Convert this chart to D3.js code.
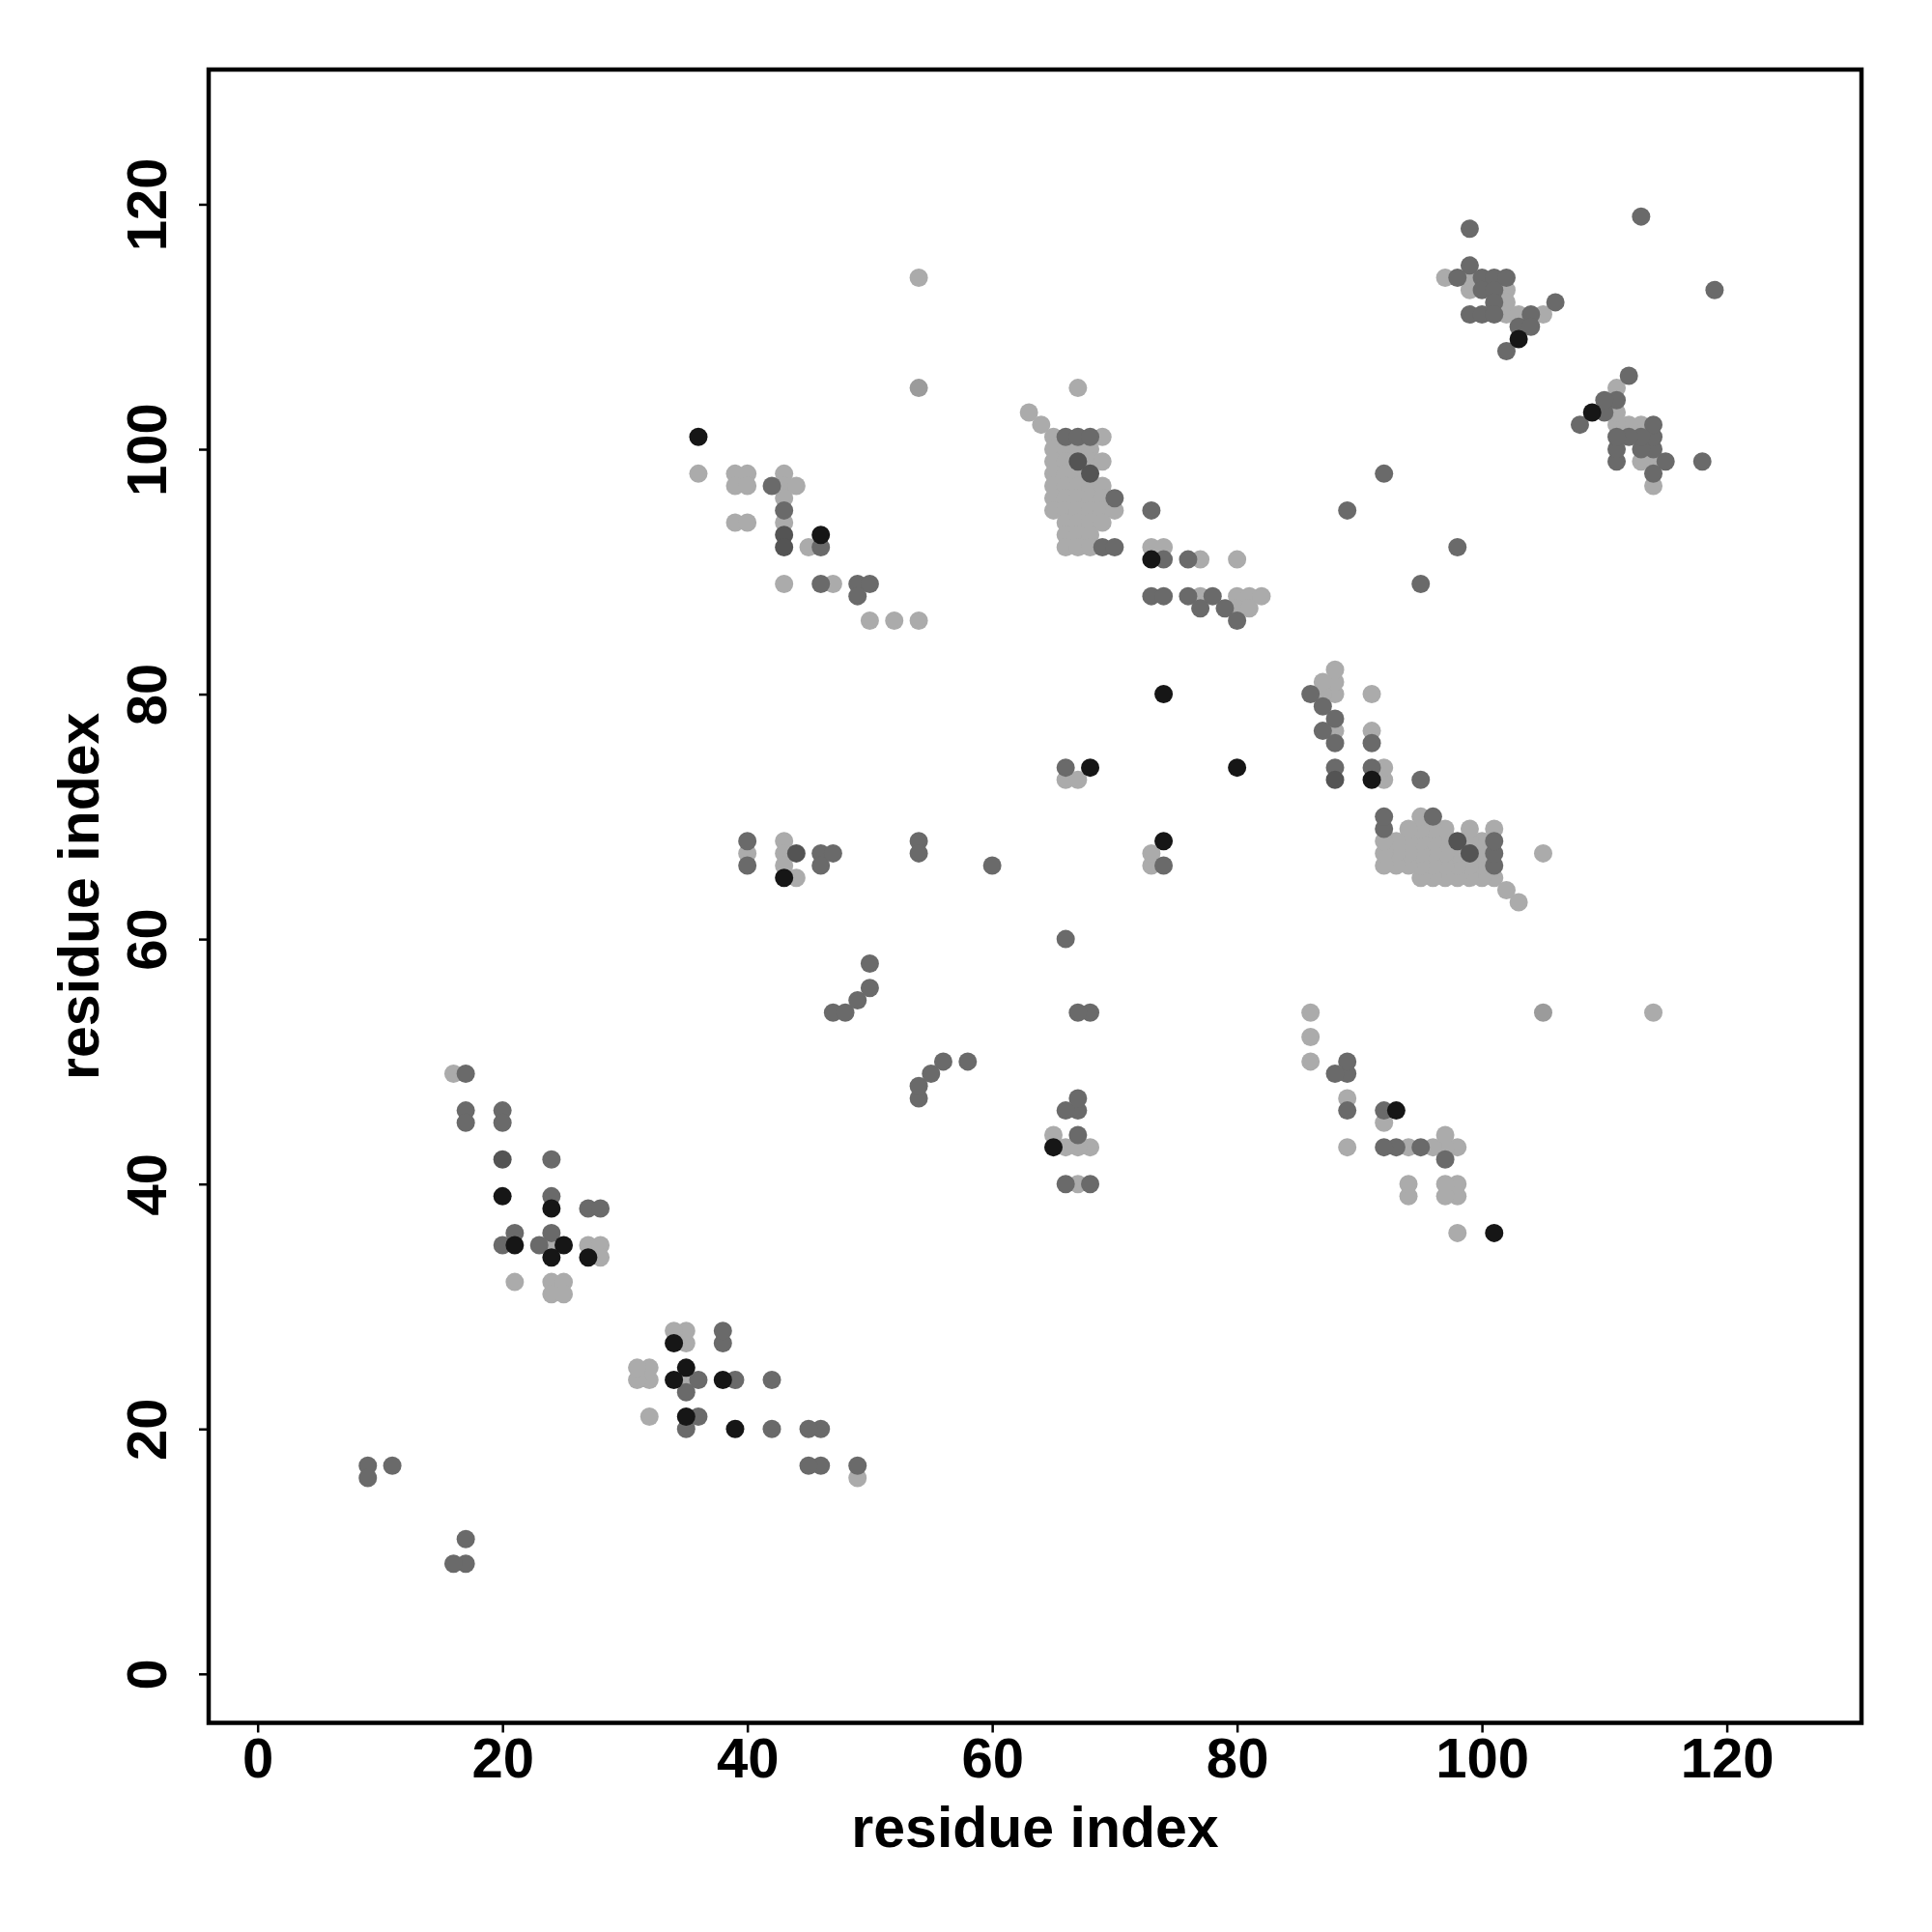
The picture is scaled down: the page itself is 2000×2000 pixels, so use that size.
<!DOCTYPE html>
<html>
<head>
<meta charset="utf-8">
<script src="https://cdn.jsdelivr.net/npm/d3@7"></script>
<style>
  html, body { margin: 0; padding: 0; background: #ffffff; }
  svg { display: block; }
  text { font-family: "Liberation Sans", Arial, Helvetica, sans-serif; font-weight: bold; }
</style>
</head>
<body>
<div id="chart"></div>
<script>
// ---- data: contacts [residue i, residue j] grouped by shade ----
const lightContacts = [
  [36,98],[39,98],[40,98],[39,97],[40,97],[39,94],[40,94],[43,98],[43,97],[43,96],[43,94],[44,97],[45,92],[43,89],[47,89],[50,86],[52,86],[54,86],[54,114],
  [98,36],[98,39],[98,40],[97,39],[97,40],[94,39],[94,40],[98,43],[97,43],[96,43],[94,43],[97,44],[92,45],[89,43],[89,47],[86,50],[86,52],[86,54],[114,54],
  [40,67],[43,68],[43,67],[43,66],[44,65],[67,40],[68,43],[67,43],[66,43],[65,44],
  [63,103],[64,102],[67,105],[103,63],[102,64],[105,67],
  [65,101],[69,101],[65,100],[66,100],[67,100],[68,100],[65,99],[66,99],[68,99],[69,99],[65,98],[66,98],[67,98],
  [65,97],[66,97],[67,97],[68,97],[69,97],[65,96],[66,96],[67,96],[68,96],[69,96],
  [65,95],[66,95],[67,95],[68,95],[69,95],[70,95],[66,94],[67,94],[68,94],[69,94],[66,93],[67,93],[68,93],[66,92],[67,92],[68,92],
  [101,65],[101,69],[100,65],[100,66],[100,67],[100,68],[99,65],[99,66],[99,68],[99,69],[98,65],[98,66],[98,67],
  [97,65],[97,66],[97,67],[97,68],[97,69],[96,65],[96,66],[96,67],[96,68],[96,69],
  [95,65],[95,66],[95,67],[95,68],[95,69],[95,70],[94,66],[94,67],[94,68],[94,69],[93,66],[93,67],[93,68],[92,66],[92,67],[92,68],
  [66,73],[67,73],[73,66],[73,67],
  [73,92],[74,92],[77,91],[80,91],[77,88],[80,88],[81,88],[82,88],[80,87],[81,87],
  [92,73],[92,74],[91,77],[91,80],[88,77],[88,80],[88,81],[88,82],[87,80],[87,81],
  [97,114],[99,114],[99,113],[102,113],[102,112],[102,111],[103,111],[105,111],
  [114,97],[114,99],[113,99],[113,102],[112,102],[111,102],[111,103],[111,105],
  [16,49],[49,16],[24,35],[35,24],[27,35],[35,27],[28,35],[35,28],[28,34],[34,28],
  [21,32],[32,21],[24,32],[32,24],[25,32],[32,25],[24,31],[31,24],[25,31],[31,25]
];
const greyContacts = [[54,105],[105,54]];
const mediumContacts = [
  [42,97],[97,42],[43,95],[95,43],[93,43],[92,43],[46,92],[92,46],[46,89],[89,46],[49,89],[89,49],[50,89],[89,50],[49,88],[88,49],
  [40,68],[68,40],[40,66],[66,40],[67,44],[46,67],[67,46],[46,66],[66,46],[47,67],[67,47],[54,68],[68,54],[54,67],[67,54],[60,66],[66,60],
  [47,54],[54,47],[48,54],[54,48],[49,55],[55,49],[50,56],[56,50],[50,58],[58,50],
  [66,101],[67,101],[68,101],[101,66],[101,67],[101,68],[70,96],[96,70],[69,92],[70,92],[92,69],[92,70],
  [66,74],[74,66],
  [73,95],[95,73],[74,91],[91,74],[76,91],[91,76],[73,88],[74,88],[88,74],[76,88],[88,76],[78,88],[88,78],
  [77,87],[87,77],[79,87],[87,79],[80,86],[86,80],
  [89,95],[95,89],[92,98],[98,92],
  [99,118],[118,99],[113,119],[119,113],[99,115],[115,99],
  [98,114],[114,98],[100,114],[114,100],[101,114],[114,101],[102,114],[114,102],[100,113],[113,100],[101,113],[113,101],
  [101,112],[112,101],[106,112],[112,106],[99,111],[111,99],[100,111],[111,100],[101,111],[111,101],[104,111],[111,104],
  [103,110],[110,103],[104,110],[110,104],[102,108],[108,102],
  [17,49],[49,17],[17,46],[46,17],[17,45],[45,17],[20,46],[46,20],[20,45],[45,20],[24,42],[42,24],[42,20],
  [24,39],[39,24],[27,38],[38,27],[28,38],[38,28],[21,36],[36,21],[24,36],[36,24],[20,35],[35,20],[23,35],[35,23],
  [9,17],[17,9],[11,17],[17,11],[9,16],[16,9]
];
const darkContacts = [[43,93],[43,92],[44,67],[20,42],[67,99],[99,67],[68,98],[98,68],[88,73]];
const blackContacts = [
  [36,101],[101,36],[46,93],[93,46],[43,65],[65,43],[73,91],[91,73],[74,80],[80,74],[68,74],[74,68],
  [103,109],[109,103],[20,39],[39,20],[24,38],[38,24],[21,35],[35,21],[25,35],[35,25],[24,34],[34,24],[27,34],[34,27]
];
const shadeGroups = ["light", "grey", "medium", "dark", "black"];
const shadeColors = ["#ababab", "#9b9b9b", "#6a6a6a", "#545454", "#161616"];
const tickValues = [0, 20, 40, 60, 80, 100, 120];
const axisTitle = "residue index";

// ---- drawing ----
(function () {
  const W = 2000, H = 2000;
  const pLeft = 216, pRight = 1927, pTop = 72, pBottom = 1783.5;
  const domain = [-4, 131];

  const svg = d3.select("#chart").append("svg").attr("width", W).attr("height", H);
  svg.append("rect").attr("width", W).attr("height", H).attr("fill", "#ffffff");

  const x = d3.scaleLinear().domain(domain).range([pLeft, pRight]);
  const y = d3.scaleLinear().domain(domain).range([pBottom, pTop]);
  const color = d3.scaleOrdinal().domain(shadeGroups).range(shadeColors);

  const groups = [
    ["light", lightContacts], ["grey", greyContacts], ["medium", mediumContacts],
    ["dark", darkContacts], ["black", blackContacts]
  ];
  const pts = svg.append("g");
  groups.forEach(([name, arr]) => {
    pts.selectAll(null).data(arr).enter().append("circle")
      .attr("cx", d => x(d[0]))
      .attr("cy", d => y(d[1]))
      .attr("r", 9.5)
      .attr("fill", color(name));
  });

  const fs = 58;
  const xAxis = svg.append("g").attr("transform", `translate(0,${pBottom})`)
    .call(d3.axisBottom(x).tickValues(tickValues).tickSize(10).tickFormat(d3.format("d")));
  xAxis.select(".domain").remove();
  xAxis.selectAll(".tick line").attr("stroke", "#000").attr("stroke-width", 2.5);
  xAxis.selectAll(".tick text").attr("y", 56).attr("dy", 0)
    .attr("font-size", fs).attr("fill", "#000")
    .style("font-family", "'Liberation Sans', Arial, sans-serif").style("font-weight", "bold");

  const yAxis = svg.append("g").attr("transform", `translate(${pLeft},0)`)
    .call(d3.axisLeft(y).tickValues(tickValues).tickSize(10).tickFormat(d3.format("d")));
  yAxis.select(".domain").remove();
  yAxis.selectAll(".tick line").attr("stroke", "#000").attr("stroke-width", 2.5);
  yAxis.selectAll(".tick text")
    .attr("x", null).attr("dy", 0)
    .attr("transform", "translate(-44,0) rotate(-90)")
    .attr("text-anchor", "middle")
    .attr("font-size", fs).attr("fill", "#000")
    .style("font-family", "'Liberation Sans', Arial, sans-serif").style("font-weight", "bold");

  svg.append("rect")
    .attr("x", pLeft).attr("y", pTop)
    .attr("width", pRight - pLeft).attr("height", pBottom - pTop)
    .attr("fill", "none").attr("stroke", "#000").attr("stroke-width", 4.5);

  svg.append("text")
    .attr("x", (pLeft + pRight) / 2).attr("y", 1912)
    .attr("text-anchor", "middle").attr("font-size", 59).attr("fill", "#000")
    .text(axisTitle);
  svg.append("text")
    .attr("transform", `translate(102,${(pTop + pBottom) / 2}) rotate(-90)`)
    .attr("text-anchor", "middle").attr("font-size", 59).attr("fill", "#000")
    .text(axisTitle);
})();
</script>
</body>
</html>
